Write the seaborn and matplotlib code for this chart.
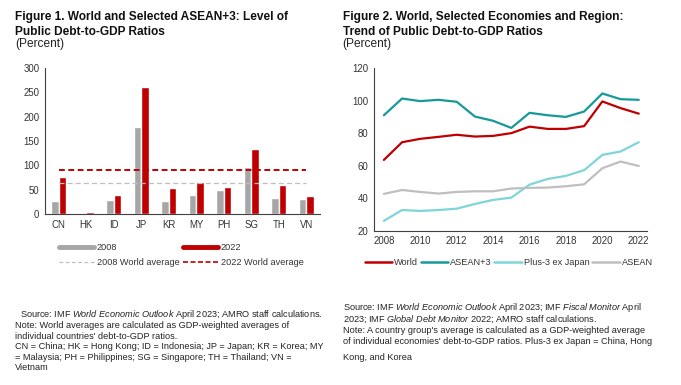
import numpy as np
import pandas as pd
import seaborn as sns
import matplotlib.pyplot as plt
from matplotlib.lines import Line2D

sns.set_style("white")
plt.rcParams["font.family"] = ["Liberation Sans", "DejaVu Sans"]
plt.rcParams["mathtext.fontset"] = "custom"
plt.rcParams["mathtext.rm"] = "Liberation Sans"
plt.rcParams["mathtext.it"] = "Liberation Sans:italic"

# -- Figure 1 data: debt-to-GDP by economy
economies = ["CN", "HK", "ID", "JP", "KR", "MY", "PH", "SG", "TH", "VN"]
debt_2008 = [27.5, 0.1, 29, 180, 27, 38.5, 48.5, 97, 34, 31]
debt_2022 = [76, 4.5, 39, 262, 53.5, 66, 56, 134, 60, 37]
world_avg_2008 = 63.8
world_avg_2022 = 90.6

# -- Figure 2 data: trend by group
years = list(range(2008, 2023))
world = [63.5, 74.4, 76.5, 77.7, 79.0, 77.9, 78.3, 80.0, 84.0, 82.6, 82.6, 84.3, 99.5, 95.4, 92.0]
asean3 = [91.0, 101.3, 99.7, 100.5, 99.3, 90.2, 87.6, 83.2, 92.5, 91.0, 90.0, 93.3, 104.4, 100.9, 100.5]
plus3_ex_jp = [26.0, 32.7, 32.1, 32.7, 33.5, 36.4, 38.9, 40.3, 48.3, 51.8, 53.7, 57.2, 66.6, 68.7, 74.4]
asean = [42.6, 45.0, 43.8, 42.8, 43.8, 44.2, 44.2, 45.9, 46.3, 46.5, 47.3, 48.5, 58.4, 62.5, 59.8]

RED = "#C00000"
GREY = "#A6A6A6"
TEAL = "#17999A"
CYAN = "#7FD5D8"
LGREY = "#BFBFBF"
AXC = "#404040"

fig = plt.figure(figsize=(6.81, 3.85), dpi=100)
ax1 = fig.add_axes([0.066, 0.444, 0.404, 0.379])
ax2 = fig.add_axes([0.549, 0.401, 0.401, 0.422])

# ---- Figure 1: bars
bars = pd.DataFrame({
    "economy": economies * 2,
    "year": ["2008"] * len(economies) + ["2022"] * len(economies),
    "debt": debt_2008 + debt_2022,
})
sns.barplot(data=bars, x="economy", y="debt", hue="year", order=economies,
            hue_order=["2008", "2022"], palette={"2008": GREY, "2022": RED},
            width=0.55, gap=0.03, saturation=1, ax=ax1, legend=False)
span = [0, len(economies) - 1]
ax1.plot(span, [world_avg_2008] * 2, color=LGREY, lw=0.9, ls=(0, (4, 2.5)))
ax1.plot(span, [world_avg_2022] * 2, color=RED, lw=1.4, ls=(0, (3, 1.8)))
ax1.set_ylim(0, 300)
ax1.set_yticks(range(0, 301, 50))
ax1.set_xlim(-0.5, len(economies) - 0.5)
ax1.set_xlabel("")
ax1.set_ylabel("")

handles1 = [
    Line2D([], [], color=GREY, lw=3.5),
    Line2D([], [], color=LGREY, lw=0.9, ls=(0, (3, 2))),
    Line2D([], [], color=RED, lw=3.5),
    Line2D([], [], color=RED, lw=1.2, ls=(0, (3, 1.5))),
]
labels1 = ["2008", "2008 World average", "2022", "2022 World average"]
fig.legend(handles1, labels1, ncol=2, loc="center", bbox_to_anchor=(0.266, 0.337),
           frameon=False, fontsize=6.6, handlelength=3.8, handletextpad=0.35,
           columnspacing=0.35, labelspacing=0.7, labelcolor="#333333")

# ---- Figure 2: lines
lines = pd.DataFrame({
    "year": years * 4,
    "group": ["World"] * 15 + ["ASEAN+3"] * 15 + ["Plus-3 ex Japan"] * 15 + ["ASEAN"] * 15,
    "debt": world + asean3 + plus3_ex_jp + asean,
})
groups = ["World", "ASEAN+3", "Plus-3 ex Japan", "ASEAN"]
sns.lineplot(data=lines, x="year", y="debt", hue="group", hue_order=groups,
             palette={"World": RED, "ASEAN+3": TEAL, "Plus-3 ex Japan": CYAN, "ASEAN": LGREY},
             lw=1.6, ax=ax2, legend=False)
ax2.set_ylim(20, 120)
ax2.set_yticks(range(20, 121, 20))
ax2.set_xlim(2007.45, 2022.45)
ax2.set_xticks(range(2008, 2023, 2))
ax2.set_xlabel("")
ax2.set_ylabel("")
handles2 = [Line2D([], [], color=c, lw=1.8) for c in [RED, TEAL, CYAN, LGREY]]
fig.legend(handles2, groups, ncol=4, loc="center", bbox_to_anchor=(0.747, 0.317),
           frameon=False, fontsize=6.6, handlelength=3.0, handletextpad=0.2,
           columnspacing=0.3, labelcolor="#333333")

for ax in (ax1, ax2):
    sns.despine(ax=ax)
    for s in ("left", "bottom"):
        ax.spines[s].set_color(AXC)
        ax.spines[s].set_linewidth(0.8)
    ax.tick_params(length=0, labelsize=6.9, colors="#333333", pad=4)
    ax.grid(False)

# ---- Titles
tkw = dict(fontsize=8.6, fontweight="bold", color="#111111", va="top")
fig.text(0.022, 0.971, "Figure 1. World and Selected ASEAN+3: Level of\nPublic Debt-to-GDP Ratios",
         linespacing=1.28, **tkw)
fig.text(0.022, 0.9, "(Percent)", fontsize=8.6, color="#222222", va="top")
fig.text(0.503, 0.971, "Figure 2. World, Selected Economies and Region:\nTrend of Public Debt-to-GDP Ratios",
         linespacing=1.28, **tkw)
fig.text(0.503, 0.9, "(Percent)", fontsize=8.6, color="#222222", va="top")

# ---- Notes
nkw = dict(fontsize=6.55, color="#222222", va="top")
fig.text(0.03, 0.200, r"Source: IMF $\it{World\ Economic\ Outlook}$ April 2023; AMRO staff calculations.", **nkw)
fig.text(0.022, 0.165,
         "Note: World averages are calculated as GDP-weighted averages of\n"
         "individual countries' debt-to-GDP ratios.\n"
         "CN = China; HK = Hong Kong; ID = Indonesia; JP = Japan; KR = Korea; MY\n"
         "= Malaysia; PH = Philippines; SG = Singapore; TH = Thailand; VN =\n"
         "Vietnam", linespacing=1.2, **nkw)

fig.text(0.503, 0.217, r"Source: IMF $\it{World\ Economic\ Outlook}$ April 2023; IMF $\it{Fiscal\ Monitor}$ April", **nkw)
fig.text(0.503, 0.185, r"2023; IMF $\it{Global\ Debt\ Monitor}$ 2022; AMRO staff calculations.", **nkw)
fig.text(0.503, 0.152,
         "Note: A country group's average is calculated as a GDP-weighted average\n"
         "of individual economies' debt-to-GDP ratios. Plus-3 ex Japan = China, Hong",
         linespacing=1.2, **nkw)
fig.text(0.503, 0.084, "Kong, and Korea", **nkw)

fig.savefig("out.png", dpi=100)
